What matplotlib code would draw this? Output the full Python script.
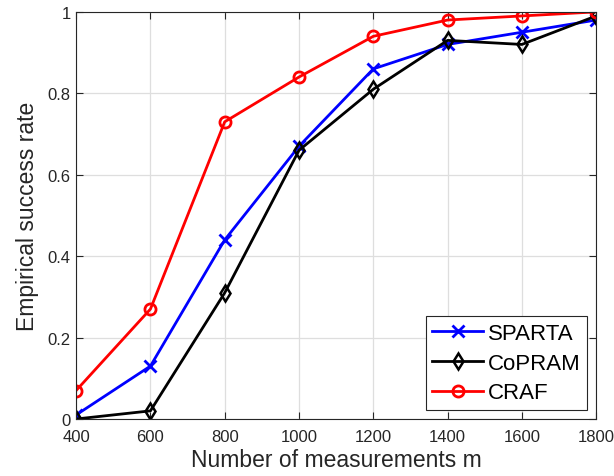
import matplotlib
matplotlib.use("Agg")
import matplotlib.pyplot as plt

plt.rcParams["font.family"] = ["Liberation Sans", "DejaVu Sans"]

m_values = [400, 600, 800, 1000, 1200, 1400, 1600, 1800]
sparta = [0.01, 0.13, 0.44, 0.67, 0.86, 0.92, 0.95, 0.98]
copram = [0.0, 0.02, 0.31, 0.66, 0.81, 0.93, 0.92, 0.99]
craf = [0.07, 0.27, 0.73, 0.84, 0.94, 0.98, 0.99, 1.0]

fig = plt.figure(figsize=(6.14, 4.77), dpi=100)
ax = fig.add_axes([0.124, 0.1195, 0.847, 0.8535])

ax.plot(m_values, sparta, color="blue", marker="x", markersize=9, markeredgewidth=2,
        linewidth=2, label="SPARTA")
ax.plot(m_values, copram, color="black", marker="d", markersize=8, markeredgewidth=1.8,
        markerfacecolor="none", linewidth=2, label="CoPRAM")
ax.plot(m_values, craf, color="red", marker="o", markersize=8, markeredgewidth=2,
        markerfacecolor="none", linewidth=2, label="CRAF")

ax.set_xlim(400, 1800)
ax.set_ylim(0, 1)
ax.set_xticks(m_values)
ax.set_yticks([0, 0.2, 0.4, 0.6, 0.8, 1.0])
ax.set_yticklabels(["0", "0.2", "0.4", "0.6", "0.8", "1"])
ax.tick_params(direction="in", top=True, right=True, labelsize=12, colors="#262626",
               length=5)
ax.tick_params(axis="x", pad=7)
ax.tick_params(axis="y", pad=4)
for s in ax.spines.values():
    s.set_color("#262626")
ax.grid(True, color="#dedede", linewidth=0.9)
ax.set_axisbelow(True)

ax.set_xlabel("Number of measurements m", fontsize=16.5, color="#262626", labelpad=3)
ax.set_ylabel("Empirical success rate", fontsize=16.5, color="#262626", labelpad=6)

leg = ax.legend(loc="lower right", fontsize=16, fancybox=False, framealpha=1,
                edgecolor="#262626", borderpad=0.3, labelspacing=0.4,
                handlelength=2.3, handletextpad=0.2, borderaxespad=0.4)
leg.get_frame().set_linewidth(0.8)

fig.savefig("out.png", dpi=100)
